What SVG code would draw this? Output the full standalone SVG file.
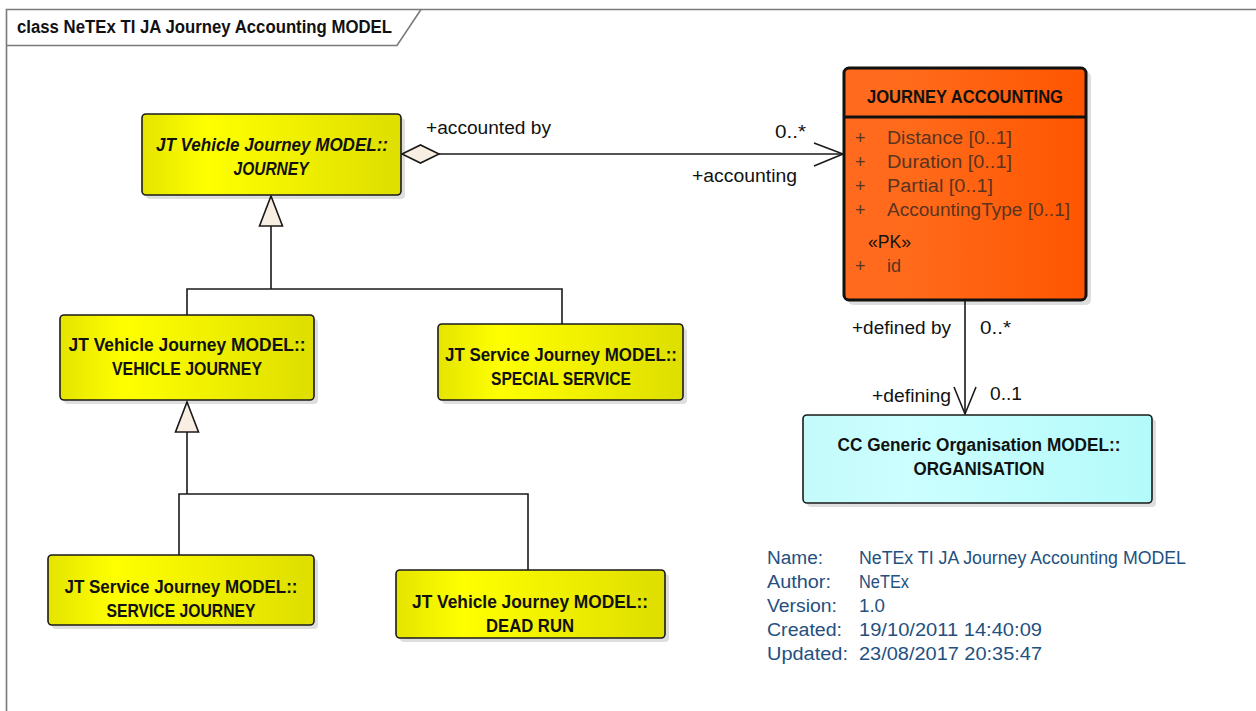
<svg xmlns="http://www.w3.org/2000/svg" width="1256" height="711" viewBox="0 0 1256 711">
<defs>
<linearGradient id="gy" x1="0" y1="0" x2="1" y2="0">
<stop offset="0" stop-color="#E4E400"/><stop offset="0.25" stop-color="#FFFF00"/><stop offset="1" stop-color="#DEDE00"/>
</linearGradient>
<linearGradient id="go" x1="0" y1="0" x2="1" y2="0">
<stop offset="0" stop-color="#FF6A20"/><stop offset="0.3" stop-color="#FF6A1A"/><stop offset="1" stop-color="#FF5500"/>
</linearGradient>
<linearGradient id="gc" x1="0" y1="0" x2="1" y2="0">
<stop offset="0" stop-color="#C4FAFA"/><stop offset="0.3" stop-color="#CCFFFF"/><stop offset="1" stop-color="#B4FAFA"/>
</linearGradient>
</defs>
<style>
.frame{fill:none;stroke:#7a7a7a;stroke-width:1.6}
.shadow{fill:#000;opacity:0.13}
.box{stroke:#1a1a1a;stroke-width:1.6}
.y{fill:url(#gy)}
.c{fill:url(#gc)}
.t{font-family:"Liberation Sans",Arial,sans-serif;font-size:18px;fill:#111}
.l{font-size:17.5px}
.b{font-weight:bold}
.i{font-style:italic}
.m{text-anchor:middle}
.attr{font-family:"Liberation Sans",Arial,sans-serif;font-size:18px;fill:#5a3420}
.meta{font-family:"Liberation Sans",Arial,sans-serif;font-size:18px;fill:#24507f}
.ln{fill:none;stroke:#1a1a1a;stroke-width:1.6}
.tri{fill:#F8EEE2;stroke:#1a1a1a;stroke-width:1.6}
</style>
<path class="frame" d="M6.5 711 V9.5 H1256"/>
<path class="frame" d="M6.5 45.5 H397 L421 9.5"/>
<text class="t b" x="17" y="33" textLength="375" lengthAdjust="spacingAndGlyphs">class NeTEx TI JA Journey Accounting MODEL</text>

<g id="connectors">
<line class="ln" x1="439" y1="154" x2="843" y2="154"/>
<path class="tri" d="M402 154 L420.5 145 L439 154 L420.5 163 Z"/>
<path class="ln" d="M814 143 L843 154 L814 166"/>
<text class="t l" x="426" y="134" textLength="125" lengthAdjust="spacingAndGlyphs">+accounted by</text>
<text class="t l" x="775" y="138" textLength="31" lengthAdjust="spacingAndGlyphs">0..*</text>
<text class="t l" x="692" y="182" textLength="105" lengthAdjust="spacingAndGlyphs">+accounting</text>

<path class="ln" d="M271 226 V289 M187 315 V289 H562 V324"/>
<path class="tri" d="M271 196 L282.5 226 L259.5 226 Z"/>

<path class="ln" d="M187 432 V494 M179 555 V494 H528 V570"/>
<path class="tri" d="M187 402 L198.5 432 L175.5 432 Z"/>

<line class="ln" x1="965" y1="300" x2="965" y2="414"/>
<path class="ln" d="M954 387 L965 414 L976 387"/>
<text class="t l" x="852" y="334" textLength="99" lengthAdjust="spacingAndGlyphs">+defined by</text>
<text class="t l" x="980" y="334" textLength="31" lengthAdjust="spacingAndGlyphs">0..*</text>
<text class="t l" x="872" y="402" textLength="79" lengthAdjust="spacingAndGlyphs">+defining</text>
<text class="t l" x="990" y="400" textLength="32" lengthAdjust="spacingAndGlyphs">0..1</text>
</g>

<g id="journey">
<rect class="shadow" x="146" y="118" width="259" height="81" rx="4"/>
<rect class="box y" x="142" y="114" width="259" height="81" rx="4"/>
<text class="t b i m" x="272" y="151" textLength="232" lengthAdjust="spacingAndGlyphs">JT Vehicle Journey MODEL::</text>
<text class="t b i m" x="271" y="175" textLength="75" lengthAdjust="spacingAndGlyphs">JOURNEY</text>
</g>

<g id="vehicle-journey">
<rect class="shadow" x="64" y="319" width="254" height="85" rx="4"/>
<rect class="box y" x="60" y="315" width="254" height="85" rx="4"/>
<text class="t b m" x="187" y="351" textLength="237" lengthAdjust="spacingAndGlyphs">JT Vehicle Journey MODEL::</text>
<text class="t b m" x="187" y="375" textLength="150" lengthAdjust="spacingAndGlyphs">VEHICLE JOURNEY</text>
</g>

<g id="special-service">
<rect class="shadow" x="442" y="328" width="245" height="76" rx="4"/>
<rect class="box y" x="438" y="324" width="245" height="76" rx="4"/>
<text class="t b m" x="561" y="361" textLength="232" lengthAdjust="spacingAndGlyphs">JT Service Journey MODEL::</text>
<text class="t b m" x="561" y="385" textLength="140" lengthAdjust="spacingAndGlyphs">SPECIAL SERVICE</text>
</g>

<g id="service-journey">
<rect class="shadow" x="52" y="559" width="266" height="70" rx="4"/>
<rect class="box y" x="48" y="555" width="266" height="70" rx="4"/>
<text class="t b m" x="181" y="593" textLength="233" lengthAdjust="spacingAndGlyphs">JT Service Journey MODEL::</text>
<text class="t b m" x="181" y="617" textLength="149" lengthAdjust="spacingAndGlyphs">SERVICE JOURNEY</text>
</g>

<g id="dead-run">
<rect class="shadow" x="400" y="574" width="269" height="68" rx="4"/>
<rect class="box y" x="396" y="570" width="269" height="68" rx="4"/>
<text class="t b m" x="530" y="608" textLength="236" lengthAdjust="spacingAndGlyphs">JT Vehicle Journey MODEL::</text>
<text class="t b m" x="530" y="632" textLength="88" lengthAdjust="spacingAndGlyphs">DEAD RUN</text>
</g>

<g id="journey-accounting">
<rect class="shadow" x="848" y="72" width="243" height="233" rx="5"/>
<rect x="844" y="68" width="242" height="232" rx="5" fill="url(#go)" stroke="#111" stroke-width="3"/>
<line x1="844" y1="117" x2="1086" y2="117" stroke="#111" stroke-width="3"/>
<text class="t b m" x="965" y="103" textLength="196" lengthAdjust="spacingAndGlyphs">JOURNEY ACCOUNTING</text>
<text class="attr" x="855" y="144">+</text><text class="attr" x="887" y="144" textLength="125" lengthAdjust="spacingAndGlyphs">Distance [0..1]</text>
<text class="attr" x="855" y="168">+</text><text class="attr" x="887" y="168" textLength="125" lengthAdjust="spacingAndGlyphs">Duration [0..1]</text>
<text class="attr" x="855" y="192">+</text><text class="attr" x="887" y="192" textLength="106" lengthAdjust="spacingAndGlyphs">Partial [0..1]</text>
<text class="attr" x="855" y="216">+</text><text class="attr" x="887" y="216" textLength="183" lengthAdjust="spacingAndGlyphs">AccountingType [0..1]</text>
<text class="t l" x="868" y="248" textLength="43" lengthAdjust="spacingAndGlyphs">«PK»</text>
<text class="attr" x="855" y="272">+</text><text class="attr" x="887" y="272">id</text>
</g>

<g id="organisation">
<rect class="shadow" x="807" y="419" width="349" height="88" rx="4"/>
<rect class="box c" x="803" y="415" width="349" height="88" rx="4"/>
<text class="t b m" x="979" y="451" textLength="283" lengthAdjust="spacingAndGlyphs">CC Generic Organisation MODEL::</text>
<text class="t b m" x="979" y="475" textLength="131" lengthAdjust="spacingAndGlyphs">ORGANISATION</text>
</g>

<g id="metadata">
<text class="meta" x="767" y="564" textLength="56" lengthAdjust="spacingAndGlyphs">Name:</text><text class="meta" x="859" y="564" textLength="327" lengthAdjust="spacingAndGlyphs">NeTEx TI JA Journey Accounting MODEL</text>
<text class="meta" x="767" y="588" textLength="64" lengthAdjust="spacingAndGlyphs">Author:</text><text class="meta" x="859" y="588" textLength="50" lengthAdjust="spacingAndGlyphs">NeTEx</text>
<text class="meta" x="767" y="612" textLength="70" lengthAdjust="spacingAndGlyphs">Version:</text><text class="meta" x="859" y="612" textLength="26" lengthAdjust="spacingAndGlyphs">1.0</text>
<text class="meta" x="767" y="636" textLength="75" lengthAdjust="spacingAndGlyphs">Created:</text><text class="meta" x="859" y="636" textLength="183" lengthAdjust="spacingAndGlyphs">19/10/2011 14:40:09</text>
<text class="meta" x="767" y="660" textLength="81" lengthAdjust="spacingAndGlyphs">Updated:</text><text class="meta" x="859" y="660" textLength="183" lengthAdjust="spacingAndGlyphs">23/08/2017 20:35:47</text>
</g>
</svg>
